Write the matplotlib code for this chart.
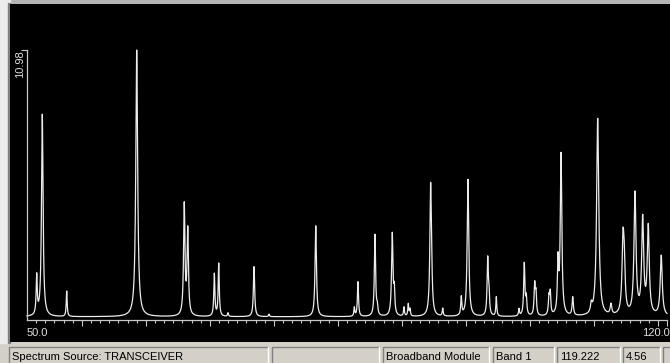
import numpy as np
import matplotlib
matplotlib.use('Agg')
import matplotlib.pyplot as plt
from matplotlib.patches import Rectangle

# spectrum lines: centre, height of the trace at the centre, half width
peak_pos = [51.06, 51.67, 51.83, 54.34, 62.00, 67.20, 67.58, 70.49, 70.97, 71.98,
            74.83, 76.47, 81.58, 85.80, 86.20, 88.06, 88.31, 89.95, 90.17, 91.23,
            91.70, 91.89, 94.15, 94.27, 95.47, 97.50, 98.23, 100.39, 100.53, 101.33,
            103.81, 104.39, 104.61, 105.53, 105.67, 107.09, 107.23, 108.08, 108.26, 108.41,
            109.69, 111.72, 112.42, 113.87, 115.19, 115.33, 116.50, 117.34, 117.95, 119.37]
peak_top = [1.92, 8.34, 2.28, 1.18, 10.98, 4.81, 3.83, 1.91, 2.32, 0.30,
            2.17, 0.24, 3.83, 0.54, 1.56, 3.49, 0.78, 3.57, 1.56, 0.54,
            0.68, 0.49, 5.60, 2.85, 0.49, 0.99, 5.72, 2.61, 1.52, 0.95,
            0.48, 2.35, 1.10, 1.60, 1.30, 1.11, 1.26, 2.78, 2.52, 6.82,
            0.95, 0.81, 8.20, 0.69, 3.73, 3.13, 5.25, 4.30, 3.93, 2.64]
peak_width = [0.07, 0.10, 0.07, 0.06, 0.12, 0.09, 0.09, 0.07, 0.07, 0.06,
              0.08, 0.06, 0.09, 0.06, 0.07, 0.08, 0.07, 0.09, 0.07, 0.06,
              0.06, 0.06, 0.10, 0.08, 0.06, 0.07, 0.10, 0.08, 0.07, 0.06,
              0.06, 0.08, 0.07, 0.08, 0.07, 0.08, 0.07, 0.08, 0.07, 0.10,
              0.08, 0.10, 0.14, 0.10, 0.13, 0.11, 0.13, 0.13, 0.13, 0.13]
baseline = 0.13
x_start, x_end = 50.0, 120.0
y_max = 10.98

status_texts = ['Spectrum Source: TRANSCEIVER', '', 'Broadband Module', 'Band 1',
                '119.222', '4.56', '']

plt.rcParams['font.family'] = ['Liberation Sans', 'DejaVu Sans']

# lorentzian lines; amplitudes chosen so the summed trace hits the read heights
c = np.array(peak_pos)
w = np.array(peak_width)
shape = w**2 / ((c[:, None] - c[None, :])**2 + w**2)
amp = np.clip(np.linalg.solve(shape, np.array(peak_top) - baseline), 0, None)

freq = np.linspace(x_start, x_end, 7001)
spec = baseline + (amp * w**2 / ((freq[:, None] - c)**2 + w**2)).sum(axis=1)

W, H = 670, 363
fig = plt.figure(figsize=(W / 100, H / 100), dpi=100, facecolor='#d4d0c8')

# window chrome drawn in pixel coords
bg = fig.add_axes([0, 0, 1, 1])
bg.set_xlim(0, W)
bg.set_ylim(H, 0)
bg.axis('off')
bg.add_patch(Rectangle((0, 0), W, 4, color='#b4b4b4'))
bg.add_patch(Rectangle((0, 0), 10, 343, color='#ececec'))
bg.add_patch(Rectangle((8, 3), 2, 340, color='#808080'))

panels = [(9, 268), (272, 379), (383, 489), (493, 554), (557, 620), (623, 660), (663, 672)]
for (x0, x1), txt in zip(panels, status_texts):
    bg.plot([x0, x0, x1], [H, 347, 347], color='#808080', lw=1)
    bg.plot([x1, x1], [347, H], color='#ffffff', lw=1)
    bg.text(x0 + 3, 357, txt, fontsize=8.0, color='#000000', va='center', ha='left')

# the black spectrum display
ax = fig.add_axes([10 / W, (H - 342) / H, 660 / W, 338 / H])
ax.set_facecolor('black')
px_x = 640 / (x_end - x_start)
px_y = 270 / y_max
ax.set_xlim(x_start - 17 / px_x, x_end + 3 / px_x)
ax.set_ylim(-22 / px_y, y_max + 46 / px_y)

ax.plot(freq, spec, color='#ececec', lw=0.9)

axis_col = '#c8c8c8'
for s in ['top', 'right']:
    ax.spines[s].set_visible(False)
ax.spines['bottom'].set_position(('data', 0))
ax.spines['bottom'].set_bounds(x_start, x_end)
ax.spines['left'].set_position(('data', x_start))
ax.spines['left'].set_bounds(0, y_max)
for s in ['bottom', 'left']:
    ax.spines[s].set_color(axis_col)
    ax.spines[s].set_linewidth(0.9)

ax.set_xticks(list(np.arange(56, 120, 7)) + [x_end])
ax.set_xticks(np.arange(51, 120, 1), minor=True)
ax.set_yticks([y_max])
ax.tick_params(axis='x', which='major', length=4, width=0.8, color=axis_col, direction='out',
               labelbottom=False)
ax.tick_params(axis='x', which='minor', length=2.2, width=0.8, color=axis_col, direction='out')
ax.tick_params(axis='y', length=4, width=0.8, color=axis_col, direction='out', labelleft=False)

ax.text(x_start, -13 / px_y, '50.0', color='#e0e0e0', fontsize=8, ha='left', va='center')
ax.text(x_end + 2.5 / px_x, -13 / px_y, '120.0', color='#e0e0e0', fontsize=8,
        ha='right', va='center')
ax.text(x_start - 7 / px_x, y_max, '10.98', color='#e0e0e0', fontsize=8, rotation=90,
        ha='center', va='top')

fig.savefig('out.png', dpi=100, facecolor=fig.get_facecolor())
